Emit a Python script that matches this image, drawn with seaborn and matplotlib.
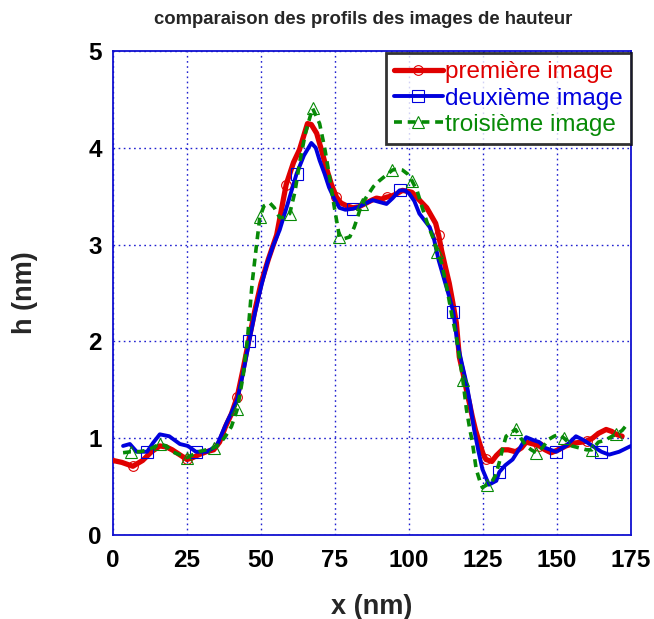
import numpy as np
import pandas as pd
import matplotlib
matplotlib.use("Agg")
import matplotlib.pyplot as plt
import seaborn as sns

# ---- data ----
x_red = [0, 3, 6.7, 10, 13, 15.8, 18, 20, 22.5, 25, 27, 29, 31.5, 34, 36, 38, 40, 42, 44, 46,
         48, 50, 52.5, 55.3, 58.5, 61, 63, 65.7, 67, 68.8, 70.5, 72, 73.8, 75.5, 77, 79, 81, 83, 85.6, 87.5,
         89, 90.7, 92.4, 94, 95.5, 97.8, 99.5, 101, 103.5, 106, 107.5, 109, 110, 111, 112.2, 113.6, 114.8, 116, 117, 118.2,
         119.4, 120.5, 121.4, 122.5, 123.7, 125, 126, 128, 129.5, 131.5, 133.5, 136, 138, 139.6, 142, 144, 146, 148, 150.5, 153,
         156, 158.5, 160, 162, 164, 166.6, 168.5, 170, 172]
y_red = [0.77, 0.75, 0.71, 0.77, 0.86, 0.92, 0.91, 0.88, 0.83, 0.78, 0.80, 0.83, 0.86, 0.88, 0.96, 1.12, 1.25, 1.43, 1.72, 2.03,
         2.33, 2.60, 2.85, 3.10, 3.62, 3.85, 3.98, 4.25, 4.24, 4.15, 3.97, 3.80, 3.62, 3.49, 3.43, 3.40, 3.38, 3.39, 3.43, 3.46,
         3.48, 3.47, 3.49, 3.50, 3.52, 3.56, 3.55, 3.54, 3.46, 3.38, 3.30, 3.22, 3.10, 2.94, 2.78, 2.60, 2.40, 2.19, 1.84, 1.68,
         1.50, 1.35, 1.22, 1.08, 0.96, 0.84, 0.78, 0.76, 0.82, 0.88, 0.88, 0.86, 0.90, 0.96, 0.94, 0.92, 0.88, 0.85, 0.88, 0.92,
         0.95, 0.96, 0.97, 1.00, 1.05, 1.09, 1.07, 1.04, 1.02]

x_blue = [3.4, 5.7, 8, 11.5, 13.5, 15.8, 19, 22.6, 25.3, 28, 31.7, 35, 38.4, 40, 42, 44, 46, 48, 50, 52,
          54, 56.3, 59, 62, 64.5, 67, 68.5, 69.8, 71.5, 73, 74.8, 76.5, 78.5, 81, 83, 85.6, 87.7, 90, 92.4, 94.5,
          96.8, 98.5, 100, 101.8, 103.5, 105, 107, 108.5, 110, 111.8, 113.6, 115, 116.3, 117.8, 119.4, 120.7, 122, 123.5, 124.8, 127,
          129.5, 130.5, 132.5, 135, 137.5, 139.6, 142, 144, 146, 149.7, 153, 156.4, 159, 162, 165, 167.6, 171, 175]
y_blue = [0.92, 0.94, 0.86, 0.86, 0.95, 1.04, 1.02, 0.94, 0.92, 0.86, 0.86, 0.92, 1.16, 1.26, 1.40, 1.68, 2.00, 2.30, 2.56, 2.80,
          2.98, 3.15, 3.42, 3.73, 3.92, 4.05, 4.00, 3.87, 3.73, 3.59, 3.47, 3.38, 3.36, 3.37, 3.39, 3.43, 3.46, 3.44, 3.42, 3.48,
          3.56, 3.56, 3.53, 3.45, 3.32, 3.26, 3.18, 3.05, 2.84, 2.65, 2.46, 2.30, 1.99, 1.78, 1.57, 1.35, 1.09, 0.86, 0.68, 0.52,
          0.56, 0.65, 0.72, 0.78, 0.90, 1.01, 0.98, 0.96, 0.90, 0.86, 0.92, 1.02, 0.98, 0.92, 0.86, 0.83, 0.86, 0.92]

x_green = [3.4, 6, 9, 12, 15.8, 18, 20, 22.5, 25, 27, 29, 31.5, 34, 36, 38, 40, 42, 44, 45.5, 47,
           48.5, 49.6, 51, 53, 54.5, 56.3, 58, 59.7, 61.5, 63, 65, 67.4, 69.8, 71.5, 73, 74.8, 76.5, 78, 80, 81.5,
           82.6, 84, 85.6, 88, 90, 92, 94.4, 96, 97.8, 99.5, 101, 102.8, 104.5, 106.2, 108, 109.6, 111, 112.8, 114.6, 116,
           117, 118.2, 119.4, 120.5, 121.4, 122.7, 124, 124.8, 126.4, 128, 129.3, 130.5, 131.7, 132.8, 134.5, 136, 137.8, 139.6, 141.3, 143,
           145, 147.3, 149, 150.7, 152.4, 155, 157.5, 160, 161.8, 164, 166.3, 168.6, 170, 172, 173.6]
y_green = [0.85, 0.86, 0.86, 0.88, 0.94, 0.92, 0.86, 0.83, 0.80, 0.83, 0.86, 0.88, 0.90, 0.94, 1.02, 1.12, 1.30, 1.65, 2.05, 2.60,
           3.00, 3.28, 3.40, 3.43, 3.38, 3.28, 3.28, 3.32, 3.55, 3.84, 4.15, 4.41, 4.25, 4.00, 3.73, 3.38, 3.08, 3.06, 3.08, 3.18,
           3.28, 3.42, 3.49, 3.60, 3.66, 3.71, 3.77, 3.78, 3.77, 3.73, 3.66, 3.55, 3.38, 3.22, 3.08, 2.92, 2.81, 2.55, 2.25, 2.05,
           1.84, 1.60, 1.30, 1.10, 0.96, 0.68, 0.55, 0.49, 0.52, 0.55, 0.62, 0.75, 0.90, 1.02, 1.06, 1.09, 1.00, 0.92, 0.88, 0.85,
           0.90, 0.99, 1.02, 1.04, 1.00, 0.92, 0.90, 0.88, 0.88, 0.96, 0.98, 1.02, 1.04, 1.08, 1.14]

# marker positions (x)
mark_red = [7.4, 25, 42, 58.7, 75.5, 92.4, 110, 127, 144, 160]
mark_blue = [12, 29, 46, 63, 80.5, 97.5, 114.6, 131.5, 148.5, 166]
mark_green = [7.4, 15.8, 24.6, 33.4, 42, 50.3, 59, 67.4, 75.8, 84.3, 93.4, 101.8, 109.6, 118.7,
              126.4, 136, 144, 152.4, 161.8, 170]

labels = ["première image", "deuxième image", "troisième image"]
x_ticks = [0, 25, 50, 75, 100, 125, 150, 175]
y_ticks = [0, 1, 2, 3, 4, 5]

# ---- styling ----
sns.set_theme(style="white")
plt.rcParams["font.family"] = ["Liberation Sans", "DejaVu Sans"]

c_red, c_blue, c_green = "#e00000", "#0000dd", "#078a07"

fig = plt.figure(figsize=(6.54, 6.19), dpi=100)
W, H = 654, 619
ax = fig.add_axes([113 / W, 1 - 535 / H, (631 - 113) / W, (535 - 51) / H])


def idx(xs, marks):
    xs = np.asarray(xs)
    return [int(np.argmin(np.abs(xs - m))) for m in marks]


df_r = pd.DataFrame({"x": x_red, "y": y_red})
df_b = pd.DataFrame({"x": x_blue, "y": y_blue})
df_g = pd.DataFrame({"x": x_green, "y": y_green})

sns.lineplot(data=df_r, x="x", y="y", ax=ax, sort=False, estimator=None, color=c_red, lw=3.8,
             marker="o", markersize=7, mfc="none", mec=c_red, mew=0.8,
             markevery=idx(x_red, mark_red), label=labels[0], zorder=3)
sns.lineplot(data=df_b, x="x", y="y", ax=ax, sort=False, estimator=None, color=c_blue, lw=2.8,
             marker="s", markersize=8, mfc="none", mec=c_blue, mew=0.8,
             markevery=idx(x_blue, mark_blue), label=labels[1], zorder=4)
sns.lineplot(data=df_g, x="x", y="y", ax=ax, sort=False, estimator=None, color=c_green, lw=2.6,
             linestyle=(0, (2.2, 1.6)), marker="^", markersize=9, mfc="none", mec=c_green, mew=0.8,
             markevery=idx(x_green, mark_green), label=labels[2], zorder=5)

ax.set_xlim(0, 175)
ax.set_ylim(0, 5)
ax.set_xticks(x_ticks)
ax.set_yticks(y_ticks)
ax.set_xticklabels([str(t) for t in x_ticks], fontsize=17.5, fontweight="bold", color="black")
ax.set_yticklabels([str(t) for t in y_ticks], fontsize=17.5, fontweight="bold", color="black")
ax.tick_params(axis="both", direction="in", length=5, width=1, color="#1010d0", pad=8)
ax.tick_params(axis="x", pad=10)
for s in ax.spines.values():
    s.set_color("#1010d0")
    s.set_linewidth(1.3)
ax.grid(True, linestyle=(0, (1.2, 2.5)), color="#2020d0", linewidth=1.0)
ax.set_axisbelow(True)

ax.set_xlabel("x (nm)", fontsize=19.5, fontweight="bold", labelpad=16)
ax.set_ylabel("h (nm)", fontsize=19.5, fontweight="bold", labelpad=36)

fig.text(363 / W, 1 - 19 / H, "comparaison des profils des images de hauteur",
         ha="center", va="center", fontsize=13.3, fontweight="bold")

leg = ax.legend(loc="upper right", bbox_to_anchor=(1.0, 0.995), fontsize=17.5, frameon=True,
                fancybox=False, borderaxespad=0, handlelength=2.0, handletextpad=0.12,
                labelspacing=0.18, borderpad=0.32)
leg.get_frame().set_edgecolor("black")
leg.get_frame().set_linewidth(2.0)
for t, c in zip(leg.get_texts(), [c_red, c_blue, c_green]):
    t.set_color(c)

fig.savefig("out.png", dpi=100)
